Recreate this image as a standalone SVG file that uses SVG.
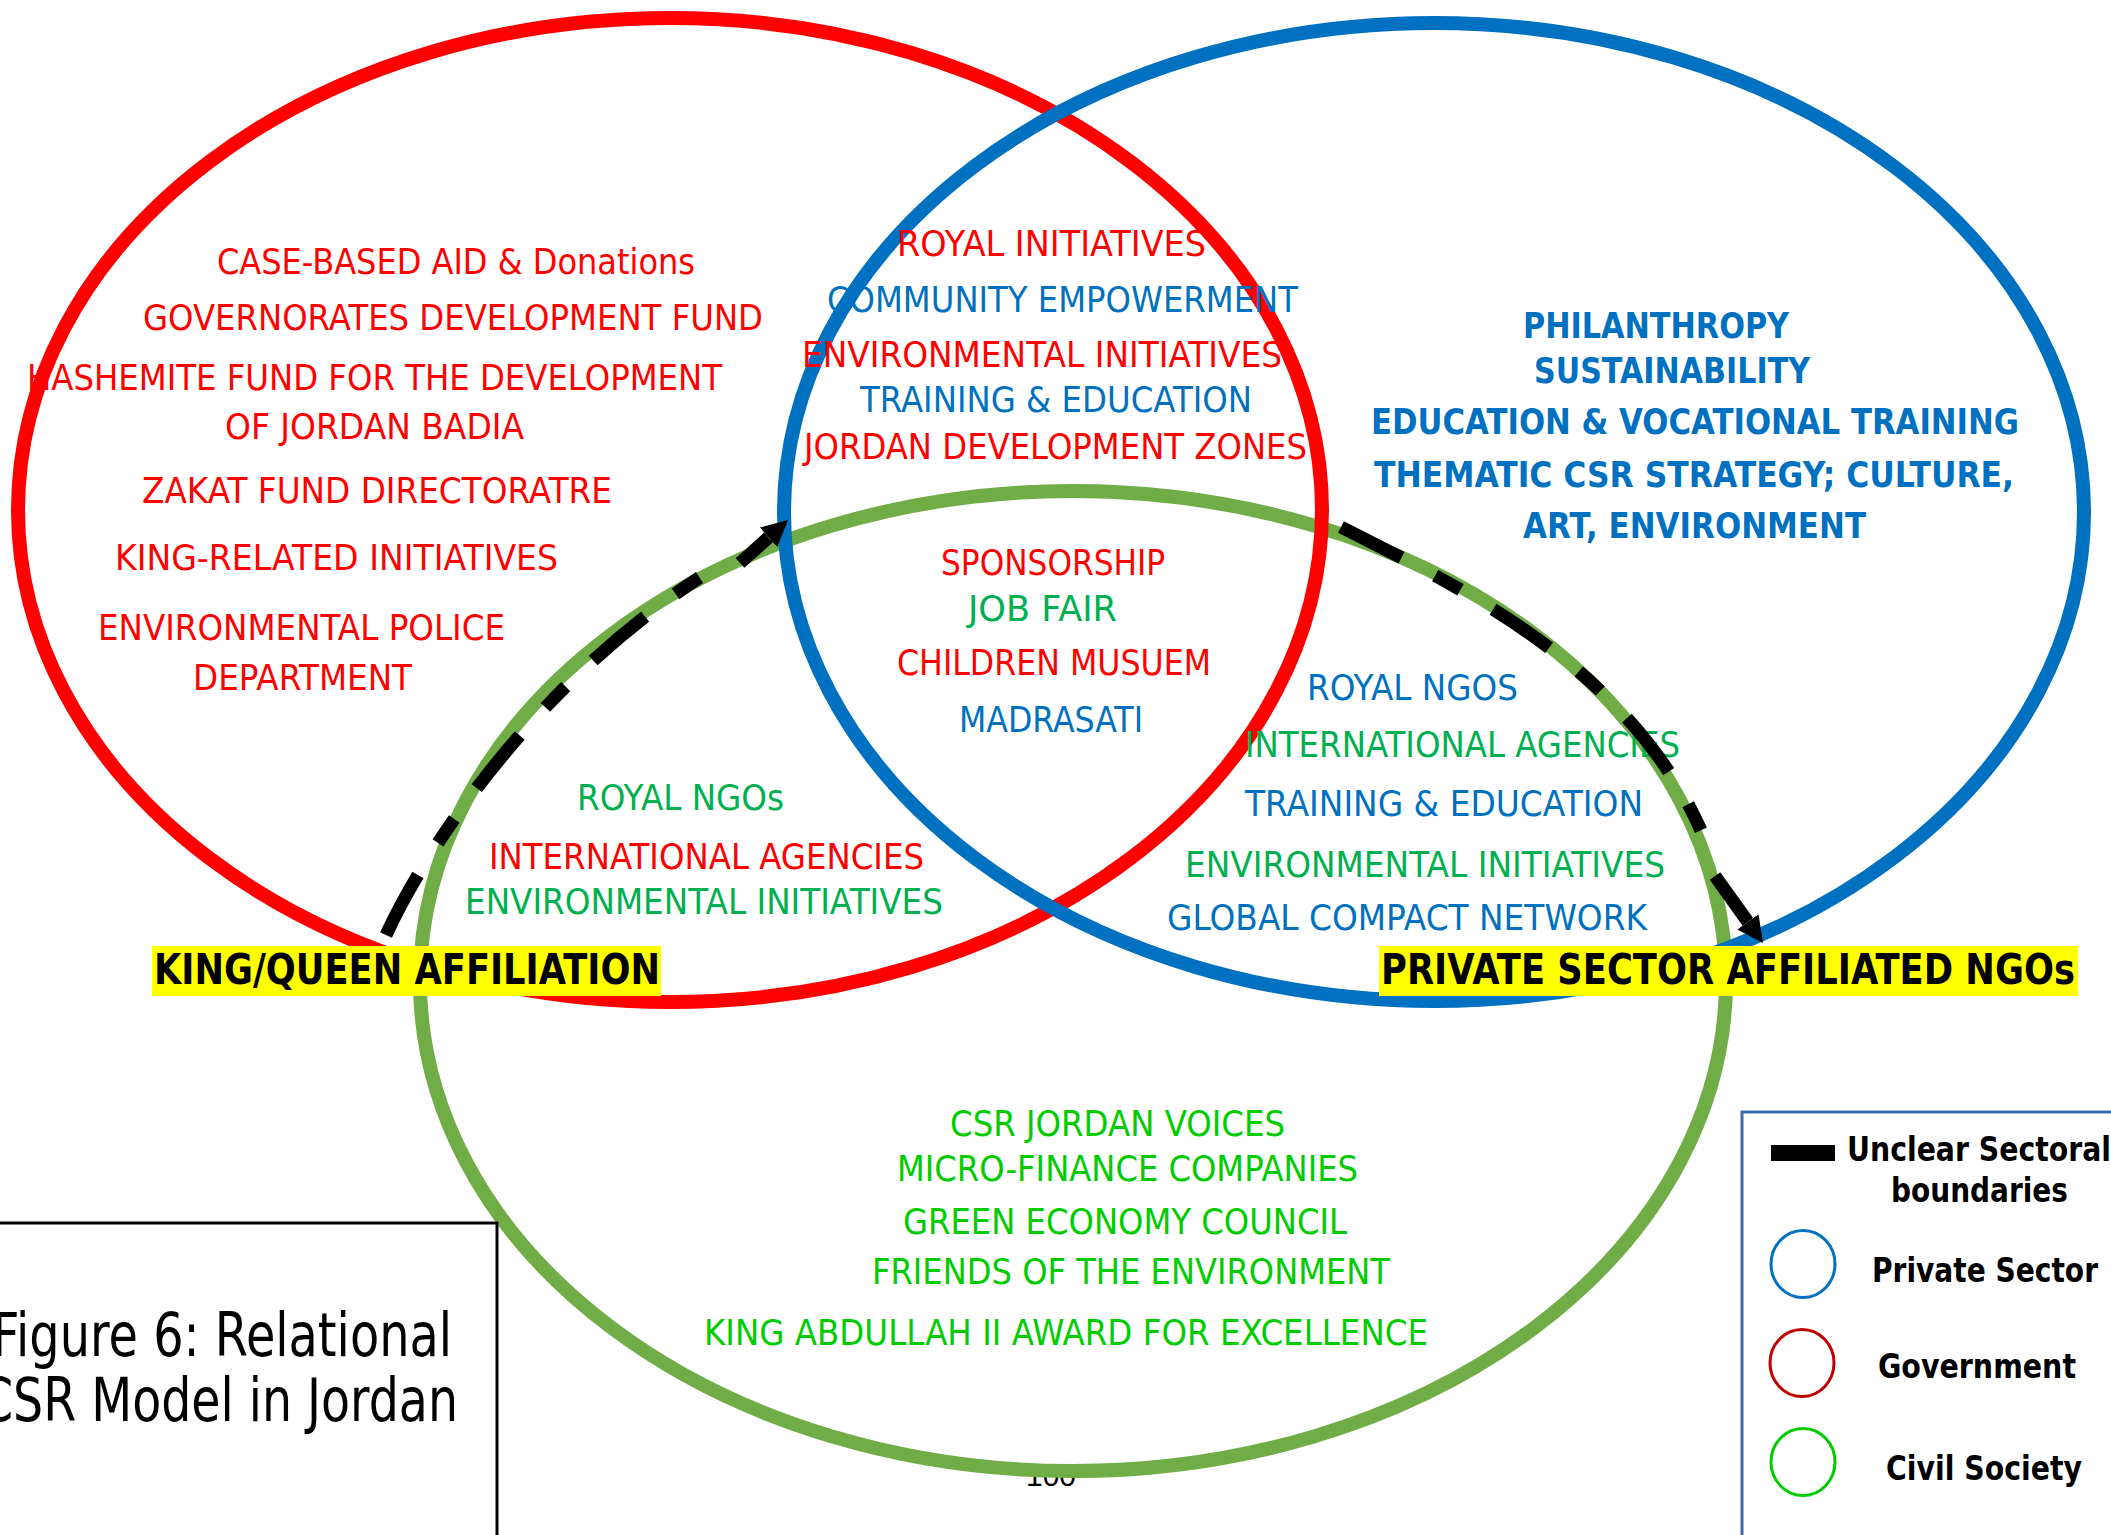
<svg xmlns="http://www.w3.org/2000/svg" width="2111" height="1535" viewBox="0 0 2111 1535">
  <defs>
    <style>
      text { font-family: "DejaVu Sans", "Liberation Sans", sans-serif; }
      .t { font-size: 35px; }
      .r { fill: #FF0000; }
      .b { fill: #0070C0; }
      .g { fill: #00B050; }
      .lg { fill: #00CC00; }
      .bd { font-weight: bold; }
      .ring { fill: none; stroke-width: 14; }
      .dash { fill: none; stroke: #000; stroke-width: 13; stroke-dasharray: 68 38 29 38; }
      .solid { fill: none; stroke: #000; stroke-width: 13; }
      .tag { fill: #FFFF00; }
      .tagtext { font-size: 42px; font-weight: bold; fill: #000; }
      .leg { font-size: 34px; font-weight: bold; fill: #000; }
      .legring { fill: none; stroke-width: 3; }
    </style>
    <marker id="head" viewBox="0 -13 26 26" refX="0" refY="0" markerWidth="26" markerHeight="26" markerUnits="userSpaceOnUse" orient="auto">
      <path d="M0,-13 L26,0 L0,13 z" fill="#000"/>
    </marker>
  </defs>

  <rect x="0" y="0" width="2111" height="1535" fill="#fff"/>

  <!-- page number, partly hidden by the civil society ring -->
  <text x="1051" y="1486" text-anchor="middle" font-size="30" style="font-family:'Liberation Sans',Arial,sans-serif" fill="#000">100</text>

  <!-- sector rings -->
  <g id="civil-society">
    <ellipse class="ring" cx="1073" cy="981" rx="653" ry="490" stroke="#70AD47"/>
  </g>
  <g id="government">
    <ellipse class="ring" cx="670" cy="510" rx="652" ry="492" stroke="#FF0000"/>
  </g>
  <g id="private-sector">
    <ellipse class="ring" cx="1434" cy="512" rx="650" ry="489" stroke="#0070C0"/>
  </g>

  <!-- government only -->
  <g id="gov-items" class="t">
    <text class="r" x="217" y="274" textLength="478" lengthAdjust="spacingAndGlyphs">CASE-BASED AID &amp; Donations</text>
    <text class="r" x="143" y="330" textLength="620" lengthAdjust="spacingAndGlyphs">GOVERNORATES DEVELOPMENT FUND</text>
    <text class="r" x="27" y="390" textLength="695" lengthAdjust="spacingAndGlyphs">HASHEMITE FUND FOR THE DEVELOPMENT</text>
    <text class="r" x="225" y="439" textLength="299" lengthAdjust="spacingAndGlyphs">OF JORDAN BADIA</text>
    <text class="r" x="142" y="503" textLength="470" lengthAdjust="spacingAndGlyphs">ZAKAT FUND DIRECTORATRE</text>
    <text class="r" x="115" y="570" textLength="443" lengthAdjust="spacingAndGlyphs">KING-RELATED INITIATIVES</text>
    <text class="r" x="98" y="640" textLength="407" lengthAdjust="spacingAndGlyphs">ENVIRONMENTAL POLICE</text>
    <text class="r" x="193" y="690" textLength="219" lengthAdjust="spacingAndGlyphs">DEPARTMENT</text>
  </g>

  <!-- government / private sector overlap -->
  <g id="gov-private-items" class="t">
    <text class="r" x="897" y="256" textLength="309" lengthAdjust="spacingAndGlyphs">ROYAL INITIATIVES</text>
    <text class="b" x="827" y="312" textLength="471" lengthAdjust="spacingAndGlyphs">COMMUNITY EMPOWERMENT</text>
    <text class="r" x="802" y="367" textLength="480" lengthAdjust="spacingAndGlyphs">ENVIRONMENTAL INITIATIVES</text>
    <text class="b" x="860" y="412" textLength="392" lengthAdjust="spacingAndGlyphs">TRAINING &amp; EDUCATION</text>
    <text class="r" x="804" y="459" textLength="503" lengthAdjust="spacingAndGlyphs">JORDAN DEVELOPMENT ZONES</text>
  </g>

  <!-- private sector only -->
  <g id="private-items" class="t bd">
    <text class="b" x="1523" y="338" textLength="266" lengthAdjust="spacingAndGlyphs">PHILANTHROPY</text>
    <text class="b" x="1534" y="383" textLength="276" lengthAdjust="spacingAndGlyphs">SUSTAINABILITY</text>
    <text class="b" x="1371" y="434" textLength="648" lengthAdjust="spacingAndGlyphs">EDUCATION &amp; VOCATIONAL TRAINING</text>
    <text class="b" x="1374" y="487" textLength="640" lengthAdjust="spacingAndGlyphs">THEMATIC CSR STRATEGY; CULTURE,</text>
    <text class="b" x="1523" y="538" textLength="343" lengthAdjust="spacingAndGlyphs">ART, ENVIRONMENT</text>
  </g>

  <!-- all three sectors -->
  <g id="core-items" class="t">
    <text class="r" x="941" y="575" textLength="224" lengthAdjust="spacingAndGlyphs">SPONSORSHIP</text>
    <text class="g" x="968" y="621" textLength="149" lengthAdjust="spacingAndGlyphs">JOB FAIR</text>
    <text class="r" x="897" y="675" textLength="314" lengthAdjust="spacingAndGlyphs">CHILDREN MUSUEM</text>
    <text class="b" x="959" y="732" textLength="184" lengthAdjust="spacingAndGlyphs">MADRASATI</text>
  </g>

  <!-- private sector / civil society overlap -->
  <g id="private-civil-items" class="t">
    <text class="b" x="1307" y="700" textLength="211" lengthAdjust="spacingAndGlyphs">ROYAL NGOS</text>
    <text class="g" x="1245" y="757" textLength="435" lengthAdjust="spacingAndGlyphs">INTERNATIONAL AGENCIES</text>
    <text class="b" x="1245" y="816" textLength="398" lengthAdjust="spacingAndGlyphs">TRAINING &amp; EDUCATION</text>
    <text class="g" x="1185" y="877" textLength="480" lengthAdjust="spacingAndGlyphs">ENVIRONMENTAL INITIATIVES</text>
    <text class="b" x="1167" y="930" textLength="480" lengthAdjust="spacingAndGlyphs">GLOBAL COMPACT NETWORK</text>
  </g>

  <!-- government / civil society overlap -->
  <g id="gov-civil-items" class="t">
    <text class="g" x="577" y="810" textLength="207" lengthAdjust="spacingAndGlyphs">ROYAL NGOs</text>
    <text class="r" x="489" y="869" textLength="435" lengthAdjust="spacingAndGlyphs">INTERNATIONAL AGENCIES</text>
    <text class="g" x="465" y="914" textLength="478" lengthAdjust="spacingAndGlyphs">ENVIRONMENTAL INITIATIVES</text>
  </g>

  <!-- civil society only -->
  <g id="civil-items" class="t">
    <text class="lg" x="950" y="1136" textLength="335" lengthAdjust="spacingAndGlyphs">CSR JORDAN VOICES</text>
    <text class="lg" x="897" y="1181" textLength="461" lengthAdjust="spacingAndGlyphs">MICRO-FINANCE COMPANIES</text>
    <text class="lg" x="903" y="1234" textLength="444" lengthAdjust="spacingAndGlyphs">GREEN ECONOMY COUNCIL</text>
    <text class="lg" x="872" y="1284" textLength="518" lengthAdjust="spacingAndGlyphs">FRIENDS OF THE ENVIRONMENT</text>
    <text class="lg" x="704" y="1345" textLength="724" lengthAdjust="spacingAndGlyphs">KING ABDULLAH II AWARD FOR EXCELLENCE</text>
  </g>

  <!-- unclear sectoral boundaries -->
  <g id="connectors">
    <path class="dash" d="M386,935 C430,840 540,680 705,574"/>
    <path class="solid" d="M740,563 L768.6,537.3" marker-end="url(#head)"/>
    <path class="dash" d="M1341,527 C1455,585 1630,665 1703,835"/>
    <path class="solid" d="M1715,876 L1747.9,921.9" marker-end="url(#head)"/>
  </g>

  <!-- affiliation labels -->
  <g id="king-queen-affiliation">
    <rect class="tag" x="152" y="946" width="509" height="50"/>
    <text class="tagtext" x="154" y="984" textLength="506" lengthAdjust="spacingAndGlyphs">KING/QUEEN AFFILIATION</text>
  </g>
  <g id="private-sector-affiliated-ngos">
    <rect class="tag" x="1379" y="946" width="699" height="50"/>
    <text class="tagtext" x="1381" y="984" textLength="694" lengthAdjust="spacingAndGlyphs">PRIVATE SECTOR AFFILIATED NGOs</text>
  </g>

  <!-- caption box -->
  <g id="caption">
    <rect x="-10" y="1223" width="507" height="320" fill="#fff" stroke="#000" stroke-width="3"/>
    <text x="-8" y="1356" font-size="60" fill="#000" textLength="460" lengthAdjust="spacingAndGlyphs">Figure 6: Relational</text>
    <text x="-20" y="1421" font-size="60" fill="#000" textLength="478" lengthAdjust="spacingAndGlyphs">CSR Model in Jordan</text>
  </g>

  <!-- legend -->
  <g id="legend">
    <rect x="1742" y="1112" width="400" height="440" fill="#fff" stroke="#3A67A8" stroke-width="3"/>
    <rect x="1771" y="1145" width="64" height="16" fill="#000"/>
    <text class="leg" x="1847" y="1161" textLength="264" lengthAdjust="spacingAndGlyphs">Unclear Sectoral</text>
    <text class="leg" x="1891" y="1202" textLength="177" lengthAdjust="spacingAndGlyphs">boundaries</text>
    <ellipse class="legring" cx="1803" cy="1264" rx="32" ry="33.5" stroke="#0070C0"/>
    <text class="leg" x="1872" y="1282" textLength="226" lengthAdjust="spacingAndGlyphs">Private Sector</text>
    <ellipse class="legring" cx="1802" cy="1363" rx="32" ry="33.5" stroke="#C00000"/>
    <text class="leg" x="1878" y="1378" textLength="198" lengthAdjust="spacingAndGlyphs">Government</text>
    <ellipse class="legring" cx="1803" cy="1462" rx="32" ry="33.5" stroke="#00CC00"/>
    <text class="leg" x="1886" y="1480" textLength="196" lengthAdjust="spacingAndGlyphs">Civil Society</text>
  </g>
</svg>
